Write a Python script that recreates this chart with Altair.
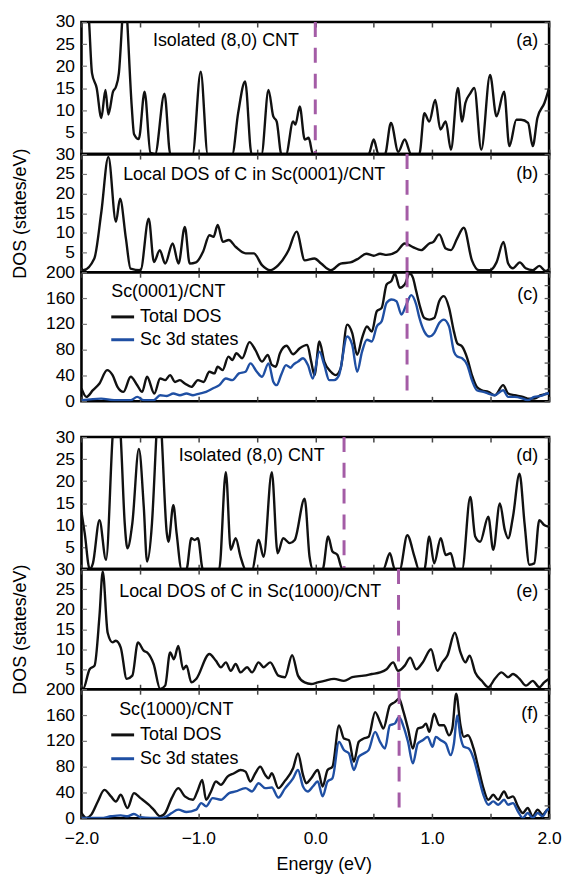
import altair as alt
import pandas as pd

FONT = "Liberation Sans"
PURPLE = "#a45ca6"
BLUE = "#1f4fa3"
BLACK = "#111111"
W = 471

# ---------------- data ----------------
a_E = [-2.00, -1.94, -1.91, -1.87, -1.83, -1.795, -1.77, -1.73, -1.705, -1.68, -1.65, -1.63, -1.61, -1.57, -1.55, -1.51, -1.46, -1.41, -1.37, -1.29, -1.24, -1.05, -0.98, -0.92, -0.71, -0.66, -0.60, -0.545, -0.46, -0.40, -0.36, -0.33, -0.29, -0.25, -0.19, -0.17, -0.133, -0.09, -0.057, -0.02, 0.456, 0.50, 0.54, 0.596, 0.647, 0.71, 0.765, 0.82, 0.89, 0.933, 0.975, 1.026, 1.07, 1.116, 1.16, 1.22, 1.256, 1.284, 1.326, 1.36, 1.42, 1.495, 1.55, 1.615, 1.66, 1.72, 1.76, 1.82, 1.86, 1.90, 1.96, 2.00]
a_V = [40, 32, 18.4, 15, 8.2, 14.6, 9, 14.2, 15.3, 18.4, 31, 40, 31, 10.8, 4.5, 3.4, 14.2, 0.3, 0, 13.7, 0, 0, 18.7, 0, 0, 9.3, 16.5, 0, 0, 14.6, 8.6, 7.4, 0, 0, 7.4, 6.7, 10.8, 3.3, 3.7, 0, 0, 3.3, 0, 0, 7.1, 0.5, 3.3, 0, 0, 9.3, 7.4, 12.3, 5.6, 7.4, 1, 15, 7.4, 11.6, 13.8, 15, 1, 18, 8.6, 14.2, 1.8, 7.8, 7.8, 7.1, 1.8, 8.2, 11.6, 15]

b_E = [-2.0, -1.985, -1.89, -1.83, -1.77, -1.705, -1.67, -1.62, -1.58, -1.495, -1.425, -1.38, -1.33, -1.284, -1.22, -1.17, -1.116, -1.074, -1.02, -0.96, -0.905, -0.87, -0.835, -0.79, -0.74, -0.68, -0.596, -0.526, -0.456, -0.385, -0.316, -0.23, -0.16, -0.09, -0.007, 0.05, 0.133, 0.217, 0.30, 0.37, 0.436, 0.50, 0.554, 0.61, 0.695, 0.765, 0.835, 0.905, 0.975, 1.01, 1.06, 1.116, 1.16, 1.214, 1.27, 1.34, 1.40, 1.495, 1.55, 1.61, 1.65, 1.69, 1.75, 1.80, 1.86, 1.916, 1.97, 2.0]
b_V = [1.0, 0.5, 3.5, 15.3, 29.3, 12.8, 18.7, 8.6, 0.9, 0.5, 13.6, 2.6, 5.6, 2.2, 7.3, 2.2, 11.5, 2.2, 2.5, 5.2, 9.4, 9, 12, 7.7, 8.2, 6.4, 4.8, 4.8, 1.8, 0.5, 1.8, 5.5, 10.3, 3, 3.5, 2.2, 0.5, 2.2, 2.5, 3.5, 4.7, 4.2, 4.7, 4.4, 5.2, 7.3, 6.4, 5.6, 7.3, 7.7, 9.6, 6, 5.6, 8.6, 11.3, 3, 0.5, 0.5, 2.5, 7.7, 2.2, 1, 2.5, 1, 0.5, 1.6, 0.3, 0.8]

c_tot_E = [-2.0, -1.958, -1.902, -1.846, -1.781, -1.734, -1.692, -1.641, -1.579, -1.523, -1.481, -1.439, -1.377, -1.327, -1.284, -1.242, -1.2, -1.158, -1.116, -1.06, -1.004, -0.956, -0.906, -0.863, -0.835, -0.793, -0.743, -0.709, -0.675, -0.625, -0.563, -0.513, -0.456, -0.406, -0.372, -0.338, -0.302, -0.246, -0.19, -0.133, -0.069, -0.035, -0.007, 0.035, 0.077, 0.133, 0.175, 0.217, 0.273, 0.316, 0.358, 0.40, 0.442, 0.484, 0.526, 0.568, 0.61, 0.652, 0.68, 0.723, 0.765, 0.807, 0.835, 0.863, 0.891, 0.933, 0.975, 1.017, 1.06, 1.10, 1.144, 1.186, 1.214, 1.256, 1.30, 1.34, 1.382, 1.424, 1.48, 1.536, 1.607, 1.65, 1.705, 1.775, 1.817, 1.873, 1.93, 1.986, 2.0]
c_tot_V = [19.8, 6.8, 17.2, 27.6, 48.4, 40.6, 22.4, 14.6, 38, 25, 14.6, 38, 12, 35.4, 32.8, 40.6, 30, 32.8, 27.6, 22.4, 32.8, 30, 45.8, 43.2, 53.6, 48.4, 69.3, 64, 74.5, 66.7, 91.7, 79.7, 61.5, 72, 56.3, 53.6, 74.5, 86, 73, 82.3, 87.5, 61.5, 40.6, 92.7, 61.5, 45.8, 40.6, 51, 118.8, 105.7, 72, 98, 116, 108, 139.6, 144.8, 181, 186.5, 198, 176, 181, 198, 191.7, 170.8, 150, 129, 126.6, 129, 155, 163, 145, 108, 90, 85, 66.7, 40.6, 22.4, 17.2, 14.6, 9.4, 25, 12, 9.4, 6.8, 4.2, 4.2, 9.4, 12, 13]

c_sc_E = [-2.0, -1.832, -1.72, -1.58, -1.523, -1.467, -1.383, -1.327, -1.27, -1.214, -1.158, -1.102, -1.046, -0.99, -0.934, -0.878, -0.821, -0.765, -0.709, -0.653, -0.597, -0.555, -0.5, -0.456, -0.40, -0.358, -0.33, -0.29, -0.25, -0.21, -0.19, -0.148, -0.105, -0.063, -0.021, 0.035, 0.077, 0.119, 0.161, 0.203, 0.273, 0.316, 0.358, 0.40, 0.442, 0.484, 0.526, 0.568, 0.61, 0.652, 0.694, 0.737, 0.779, 0.821, 0.863, 0.891, 0.933, 0.975, 1.017, 1.06, 1.10, 1.144, 1.186, 1.214, 1.256, 1.30, 1.34, 1.382, 1.438, 1.48, 1.536, 1.607, 1.65, 1.705, 1.775, 1.817, 1.873, 1.93, 1.986, 2.0]
c_sc_V = [1.6, 4.2, 1.6, 1.6, 6.8, 1.6, 1.6, 9.4, 8.3, 12, 9.4, 12, 9.4, 12, 14.6, 19.8, 25, 35.4, 32.8, 43.2, 45.8, 58.8, 45.8, 38, 58.8, 30, 25, 42, 56, 52, 56.3, 61.5, 66.7, 56.3, 35.4, 77, 56.3, 32.8, 32.8, 40.6, 100.5, 87.5, 45.8, 77, 95.3, 92.7, 116, 124, 152.6, 157.8, 155.2, 134.4, 150, 164.6, 150, 129, 108, 100.5, 105.7, 121.4, 126.6, 116, 77, 69.3, 66.7, 56.3, 32.8, 17.2, 14.6, 12, 9.4, 17.2, 6.8, 6.8, 4.2, 1.6, 6.8, 8.3, 12, 12]

d_E = [-2.0, -1.972, -1.93, -1.902, -1.846, -1.79, -1.734, -1.70, -1.664, -1.63, -1.607, -1.565, -1.509, -1.467, -1.439, -1.397, -1.36, -1.337, -1.313, -1.27, -1.256, -1.214, -1.186, -1.144, -1.102, -1.06, -1.032, -1.004, -0.962, -0.822, -0.765, -0.723, -0.681, -0.639, -0.597, -0.54, -0.484, -0.442, -0.372, -0.322, -0.274, -0.218, -0.176, -0.091, -0.049, -0.021, 0.063, 0.11, 0.147, 0.19, 0.231, 0.582, 0.638, 0.68, 0.723, 0.787, 0.849, 0.885, 0.933, 0.975, 1.017, 1.073, 1.116, 1.158, 1.2, 1.256, 1.326, 1.368, 1.41, 1.48, 1.522, 1.579, 1.621, 1.65, 1.691, 1.747, 1.79, 1.831, 1.873, 1.916, 1.958, 2.0]
d_V = [13, 8.1, 0, 1.3, 11.1, 2.1, 30, 42, 30, 10.4, 4.7, 10.4, 27.3, 14.1, 1.7, 10.4, 30, 42, 30, 8.1, 6.2, 14.5, 8.1, 0, 0, 7, 6.6, 7, 0, 0, 22, 4.4, 7, 2.8, 0, 0, 6.6, 2.8, 22, 3.6, 7, 5.9, 6.6, 16, 2.8, 0, 0, 7.4, 4, 3.2, 0, 0, 3.6, 0, 0, 7.7, 2.8, 0, 0, 7.4, 1.3, 7, 3.2, 3.6, 0, 0, 16.4, 7.4, 6.2, 11.9, 4.4, 14.9, 8.9, 7, 11.9, 21.7, 10.4, 1, 1.3, 11.1, 10, 9.6]

e_E = [-2.0, -1.986, -1.93, -1.888, -1.846, -1.818, -1.776, -1.734, -1.706, -1.664, -1.613, -1.565, -1.517, -1.467, -1.439, -1.383, -1.327, -1.284, -1.242, -1.209, -1.172, -1.13, -1.102, -1.06, -1.018, -0.906, -0.85, -0.807, -0.765, -0.723, -0.681, -0.639, -0.583, -0.541, -0.485, -0.442, -0.386, -0.316, -0.26, -0.198, -0.148, -0.091, -0.035, 0.021, 0.077, 0.161, 0.245, 0.316, 0.414, 0.484, 0.554, 0.61, 0.666, 0.708, 0.765, 0.812, 0.863, 0.919, 0.99, 1.045, 1.087, 1.13, 1.194, 1.242, 1.284, 1.32, 1.368, 1.424, 1.48, 1.536, 1.593, 1.649, 1.691, 1.747, 1.803, 1.86, 1.916, 1.958, 2.0]
e_V = [0.5, 0.1, 5, 5.9, 18.3, 29.4, 14.1, 11.7, 12.1, 10.4, 2.6, 3.4, 11.7, 9.6, 9.2, 6.3, 0.1, 0.9, 9.2, 7.5, 10.8, 5, 5.9, 1.7, 2.6, 8.8, 7.1, 5.5, 6.7, 4.6, 6.3, 4.2, 5.5, 4.2, 6.7, 5.5, 6.7, 3.4, 3, 8.5, 3.4, 1.7, 1.3, 1.7, 2.1, 2.6, 2.1, 3, 3.4, 3.8, 4.2, 5, 6.7, 4.6, 5.9, 7.9, 5, 6.7, 10, 4.6, 6.7, 8.4, 14.1, 9.2, 6.7, 8.4, 4.2, 2.1, 0.5, 2.6, 4.2, 3, 3.8, 2.6, 0.9, 2.1, 0.5, 1.7, 2.6]

f_tot_E = [-2.0, -1.958, -1.916, -1.86, -1.804, -1.748, -1.706, -1.664, -1.607, -1.551, -1.495, -1.425, -1.383, -1.327, -1.284, -1.228, -1.172, -1.116, -1.046, -1.004, -0.967, -0.934, -0.892, -0.85, -0.807, -0.751, -0.695, -0.639, -0.597, -0.555, -0.513, -0.471, -0.428, -0.4, -0.372, -0.316, -0.26, -0.19, -0.148, -0.105, -0.077, -0.035, 0.021, 0.063, 0.105, 0.147, 0.203, 0.245, 0.288, 0.33, 0.372, 0.414, 0.456, 0.512, 0.554, 0.582, 0.638, 0.68, 0.717, 0.751, 0.793, 0.835, 0.877, 0.919, 0.947, 0.975, 1.017, 1.06, 1.1, 1.144, 1.172, 1.205, 1.242, 1.27, 1.306, 1.354, 1.396, 1.438, 1.48, 1.522, 1.565, 1.615, 1.649, 1.691, 1.733, 1.775, 1.817, 1.86, 1.902, 1.944, 1.986, 2.0]
f_tot_V = [8.2, 0.5, 5.7, 26, 44, 33.9, 26, 36.4, 15.9, 39, 31.3, 21, 13.4, 3.1, 8.2, 31.3, 46.7, 33.9, 28.7, 44, 59.5, 28.7, 41.6, 57, 51.8, 64.6, 69.8, 74.9, 72.3, 57, 69.8, 80, 67.2, 62, 69.8, 46.7, 58, 77.5, 100.5, 67.2, 54.4, 62, 74.9, 49.3, 74.9, 80, 144, 123.6, 121, 87.7, 118.5, 123.6, 126.2, 164.6, 149.3, 139, 174.9, 180, 185.2, 167.2, 139, 108.2, 139, 141.6, 146.7, 133.9, 162.1, 144.1, 144.1, 128.7, 139, 192.9, 144.1, 126.2, 128.7, 108.2, 77.5, 46.7, 28.7, 36.4, 28.7, 41.6, 31.3, 33.9, 18.5, 8.2, 15.9, 3.1, 13.4, 5.7, 13.4, 14]

f_sc_E = [-2.0, -1.832, -1.748, -1.664, -1.607, -1.551, -1.495, -1.411, -1.327, -1.27, -1.228, -1.172, -1.102, -1.018, -0.976, -0.934, -0.878, -0.807, -0.737, -0.681, -0.597, -0.541, -0.485, -0.428, -0.372, -0.316, -0.26, -0.19, -0.148, -0.105, -0.063, -0.021, 0.021, 0.063, 0.105, 0.147, 0.203, 0.245, 0.288, 0.33, 0.372, 0.414, 0.456, 0.512, 0.554, 0.596, 0.638, 0.68, 0.717, 0.751, 0.793, 0.835, 0.877, 0.919, 0.961, 1.003, 1.031, 1.073, 1.116, 1.158, 1.186, 1.214, 1.242, 1.27, 1.312, 1.354, 1.396, 1.438, 1.48, 1.522, 1.565, 1.615, 1.649, 1.691, 1.733, 1.775, 1.817, 1.86, 1.902, 1.944, 1.986, 2.0]
f_sc_V = [0.5, 0.5, 3.1, 4.6, 3.1, 6.7, 1.6, 0.5, 0.5, 3.1, 8.2, 13.4, 9.8, 13.4, 23.6, 18.5, 31.3, 28.7, 39, 41.6, 46.7, 41.6, 54.4, 46.7, 47.7, 32, 46, 62, 74.9, 49.3, 41.6, 49.3, 57, 33.9, 57, 62, 118.5, 105.7, 100.5, 74.9, 95.4, 100.5, 105.7, 133.9, 118.5, 108.2, 144.1, 146.7, 157, 144.1, 118.5, 85.2, 116, 121, 126.2, 110.8, 126.2, 121, 116, 98, 116, 159.5, 126.2, 110.8, 108.2, 92.9, 64.6, 36.4, 21, 26.2, 21, 28.7, 21, 23.6, 10.8, 0.5, 8.2, 0.5, 8.2, 3.1, 13.4, 14]

fermi = {"a": 0.0, "b": 0.785, "c": 0.785, "d": 0.246, "e": 0.712, "f": 0.717}

XTICKS = [-2.0, -1.5, -1.0, -0.5, 0.0, 0.5, 1.0, 1.5, 2.0]
Y30 = [0, 5, 10, 15, 20, 25, 30]
Y200 = [0, 40, 80, 120, 160, 200]
R200 = [0, 20, 40, 60, 80, 100, 120, 140, 160, 180, 200]


def one_row(**kw):
    return pd.DataFrame({k: [v] for k, v in kw.items()})


def text_layer(txt, x, y, align="left", size=18):
    return alt.Chart(one_row(t=txt)).mark_text(
        align=align, baseline="middle", fontSize=size, font=FONT, color="black"
    ).encode(x=alt.value(x), y=alt.value(y), text="t:N")


def panel(H, ymax, yticks, rticks, curves, ef, label, lx, ly, tag, tag_y,
          last=False, ytitle=False, legend=None, hide_zero=True):
    xs = alt.Scale(domain=[-2, 2], nice=False, zero=False)
    ys = alt.Scale(domain=[0, ymax], nice=False)

    bx = dict(orient="bottom", offset=-5, tickSize=5, values=XTICKS, grid=False,
              domain=False, tickColor="#444", tickWidth=1.5, labels=last,
              labelFlush=False, labelOverlap=False, labelPadding=11,
              labelFontSize=17.5,
              labelExpr="datum.value % 1 === 0 ? format(datum.value, '.1f') : ''")
    if last:
        bx.update(title="Energy (eV)", titleX=244, titleY=52,
                  titleBaseline="middle", titleFontSize=18)
    else:
        bx["title"] = None

    ly_ax = dict(orient="left", offset=-5, tickSize=5, values=yticks, grid=False,
                 domain=False, tickColor="#777", tickWidth=1.2, labelFontSize=17.5,
                 labelPadding=7, labelOverlap=False, labelFlush=False)
    if hide_zero:
        ly_ax["labelExpr"] = "datum.value == 0 ? '' : datum.label"
    if ytitle:
        ly_ax.update(title="DOS (states/eV)", titleX=-66, titleBaseline="middle",
                     titleFontSize=18)
    else:
        ly_ax["title"] = None

    tx = dict(orient="top", offset=-5, tickSize=5, values=XTICKS, grid=False,
              domain=False, labels=False, tickColor="#444", tickWidth=1.5, title=None)
    ry = dict(orient="right", offset=-5, tickSize=5, values=rticks, grid=False,
              domain=False, labels=False, tickColor="#555", tickWidth=1.3, title=None)

    layers = []
    for i, (E, V, col) in enumerate(curves):
        df = pd.DataFrame({"E": E, "V": V})
        if i == 0:
            xe = alt.X("E:Q", scale=xs, axis=alt.Axis(**bx))
            ye = alt.Y("V:Q", scale=ys, axis=alt.Axis(**ly_ax))
        else:
            xe = alt.X("E:Q", scale=xs, axis=None)
            ye = alt.Y("V:Q", scale=ys, axis=None)
        layers.append(
            alt.Chart(df).mark_line(color=col, strokeWidth=2.4,
                                    interpolate="monotone", clip=True)
            .encode(x=xe, y=ye)
        )
    E0, V0, _ = curves[0]
    layers.append(
        alt.Chart(pd.DataFrame({"E": E0, "V": V0})).mark_point(opacity=0, clip=True)
        .encode(x=alt.X("E:Q", scale=xs, axis=alt.Axis(**tx)),
                y=alt.Y("V:Q", scale=ys, axis=alt.Axis(**ry)))
    )
    layers.append(
        alt.Chart(one_row(E=ef)).mark_rule(color=PURPLE, strokeWidth=3,
                                           strokeDash=[15, 11])
        .encode(x=alt.X("E:Q", scale=xs, axis=None))
    )
    layers.append(text_layer(label, lx, ly))
    layers.append(text_layer(tag, W - 11, tag_y, align="right"))
    if legend is not None:
        for (name, col), yy in zip([("Total DOS", BLACK), ("Sc 3d states", BLUE)], legend):
            layers.append(
                alt.Chart(one_row(n=name)).mark_rule(color=col, strokeWidth=3)
                .encode(x=alt.value(30), x2=alt.value(53), y=alt.value(yy))
            )
            layers.append(text_layer(name, 59, yy))

    return (alt.layer(*layers)
            .resolve_axis(x="independent", y="independent")
            .properties(width=W, height=H))


pa = panel(133, 30, Y30, Y30, [(a_E, a_V, BLACK)], fermi["a"],
           "Isolated (8,0) CNT", 72, 19, "(a)", 19)
pb = panel(119, 30, Y30, Y30, [(b_E, b_V, BLACK)], fermi["b"],
           "Local DOS of C in Sc(0001)/CNT", 42, 21, "(b)", 20, ytitle=True)
pc = panel(130, 200, Y200, R200, [(c_tot_E, c_tot_V, BLACK), (c_sc_E, c_sc_V, BLUE)],
           fermi["c"], "Sc(0001)/CNT", 30, 20, "(c)", 23, legend=(45, 68),
           hide_zero=False)
pd_ = panel(133, 30, Y30, Y30, [(d_E, d_V, BLACK)], fermi["d"],
            "Isolated (8,0) CNT", 98, 19, "(d)", 19)
pe = panel(121, 30, Y30, Y30, [(e_E, e_V, BLACK)], fermi["e"],
           "Local DOS of C in Sc(1000)/CNT", 38, 23, "(e)", 23, ytitle=True)
pf = panel(130, 200, Y200, R200, [(f_tot_E, f_tot_V, BLACK), (f_sc_E, f_sc_V, BLUE)],
           fermi["f"], "Sc(1000)/CNT", 38, 21, "(f)", 25, legend=(46, 70),
           hide_zero=False, last=True)

spacer = (alt.Chart(one_row(E=0.0)).mark_point(opacity=0)
          .encode(x=alt.value(0), y=alt.value(0))
          .properties(width=W, height=36,
                      view=alt.ViewBackground(strokeOpacity=0, fillOpacity=0)))

chart = (alt.vconcat(pa, pb, pc, spacer, pd_, pe, pf, spacing=0, bounds="flush")
         .properties(padding={"left": 2, "top": 0, "right": 0, "bottom": 0})
         .configure_view(stroke="black", strokeWidth=2.6)
         .configure_axis(labelFont=FONT, titleFont=FONT, labelColor="black",
                         titleColor="black", titleFontWeight="normal"))

chart.save("out.html", embed_options={"renderer": "svg", "actions": False})
